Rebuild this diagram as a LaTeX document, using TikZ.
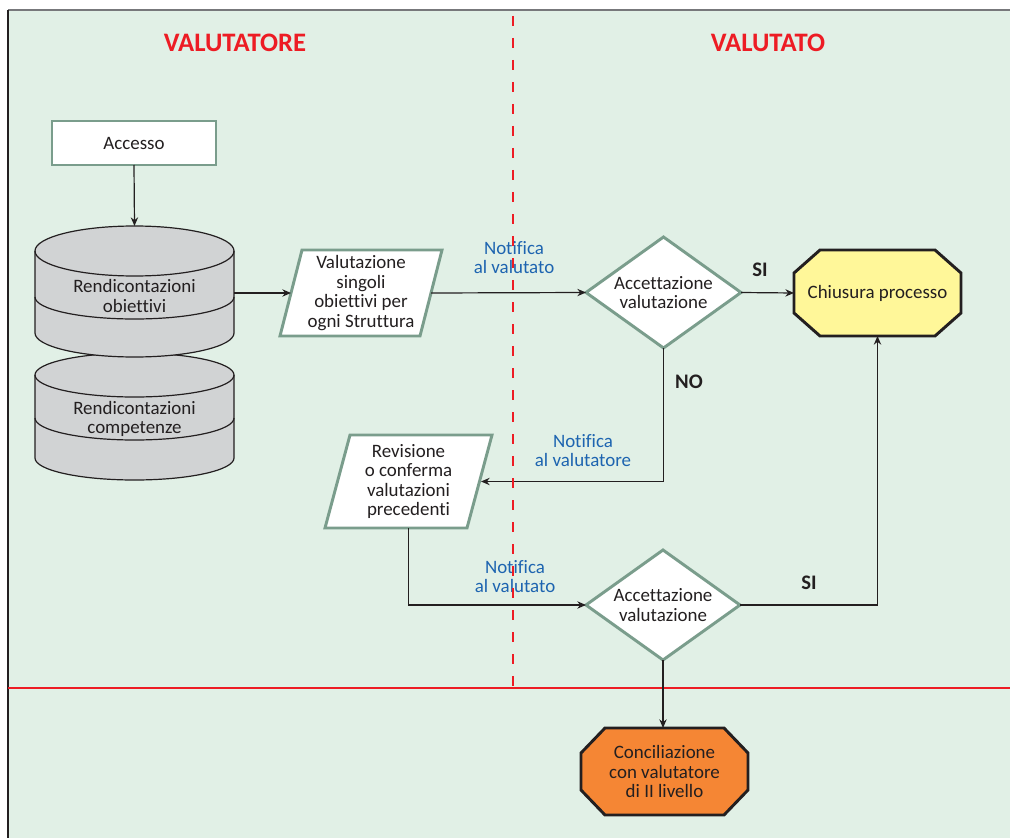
\documentclass[tikz,border=0pt]{standalone}
\usepackage{fontspec}
\setmainfont{Carlito}[Ligatures=NoCommon]
\usetikzlibrary{arrows.meta,calc}
\pgfdeclarelayer{back}
\pgfdeclarelayer{shp}
\pgfsetlayers{back,shp,main}
\definecolor{bgg}{HTML}{E1F0E6}
\definecolor{bord}{HTML}{7A9D8C}
\definecolor{ink}{HTML}{231F20}
\definecolor{cylfill}{HTML}{D1D3D4}
\definecolor{yell}{HTML}{FFF799}
\definecolor{oran}{HTML}{F58634}
\definecolor{redl}{HTML}{ED1C24}
\definecolor{bluel}{HTML}{1D64B0}
\definecolor{framegray}{HTML}{77787B}
\tikzset{
  txt/.style={font=\fontsize{14.2}{14.7}\selectfont, text=ink, align=center},
  hit/.style={inner sep=0pt, outer sep=0pt},
  title/.style={font=\fontsize{20}{24}\selectfont\bfseries, text=redl},
  note/.style={font=\fontsize{14.2}{14.3}\selectfont, text=bluel, align=center},
  yn/.style={font=\fontsize{15.5}{18}\selectfont\bfseries, text=ink},
  outl/.style={draw=bord, fill=white, line width=2.2pt, line join=miter},
  octo/.style={draw=ink, line width=2.2pt, line join=miter},
  cyl/.style={draw=ink, line width=0.9pt},
  arr/.style={draw=ink, line width=0.9pt, -{Stealth[length=6.5pt,width=5.5pt]}},
  lin/.style={draw=ink, line width=0.9pt},
}
\newcommand\octpath[4]{% node, cut x, cut y, style
  \begin{pgfonlayer}{shp}
  \path[#4] ($(#1.north west)+(#2,0)$) -- ($(#1.north east)+(-#2,0)$)
    -- ($(#1.north east)+(0,#3)$) -- ($(#1.south east)+(0,-#3)$)
    -- ($(#1.south east)+(-#2,0)$) -- ($(#1.south west)+(#2,0)$)
    -- ($(#1.south west)+(0,-#3)$) -- ($(#1.north west)+(0,#3)$) -- cycle;
  \end{pgfonlayer}}
\newcommand\diapath[1]{%
  \begin{pgfonlayer}{shp}
  \path[outl] (#1.west) -- (#1.north) -- (#1.east) -- (#1.south) -- cycle;
  \end{pgfonlayer}}
\newcommand\parpath[2]{%
  \begin{pgfonlayer}{shp}
  \path[outl] ($(#1.north west)+(#2,0)$) -- (#1.north east)
    -- ($(#1.south east)+(-#2,0)$) -- (#1.south west) -- cycle;
  \end{pgfonlayer}}
\begin{document}
\begin{tikzpicture}[x=0.75pt,y=-0.75pt]
\useasboundingbox (0,0) rectangle (1010,838);
\begin{pgfonlayer}{back}
  \fill[white] (0,0) rectangle (1010,838);
  \fill[bgg] (8,10) rectangle (1010,838);
  \draw[framegray, line width=1.5pt] (8,10) -- (1010,10);
  \draw[ink, line width=1.1pt] (8,10) -- (8,838);
  \draw[redl, line width=1.9pt] (8,688) -- (1010,688);
\end{pgfonlayer}

% titles
\node[title] (t1) at (235,43) {VALUTATORE};
\node[title] (t2) at (768,43) {VALUTATO};

% Accesso
\node[txt, hit, outl, minimum width=123pt, minimum height=33pt] (acc) at (134,143) {Accesso};

% cylinders
\begin{pgfonlayer}{shp}
  \path[cyl, fill=cylfill] (35,375) -- (35,458)
     arc[start angle=180, end angle=360, x radius=74.625pt, y radius=16.5pt]
     -- (234,375)
     arc[start angle=0, end angle=180, x radius=74.625pt, y radius=16.5pt] -- cycle;
  \path[cyl] (35,375) arc[start angle=180, end angle=360, x radius=74.625pt, y radius=16.5pt];
  \path[cyl] (35,418) arc[start angle=180, end angle=360, x radius=74.625pt, y radius=16.5pt];
  \path[cyl, fill=cylfill] (35,251) -- (35,333)
     arc[start angle=180, end angle=360, x radius=74.625pt, y radius=18pt]
     -- (234,251)
     arc[start angle=0, end angle=180, x radius=74.625pt, y radius=18.75pt] -- cycle;
  \path[cyl] (35,251) arc[start angle=180, end angle=360, x radius=74.625pt, y radius=18.75pt];
  \path[cyl] (35,297) arc[start angle=180, end angle=360, x radius=74.625pt, y radius=16.5pt];
\end{pgfonlayer}
\node[hit, minimum width=149.25pt, minimum height=98.25pt] (cyl1) at (134.5,291.5) {};
\node[txt] (cyl1t) at (134.5,296) {Rendicontazioni\\obiettivi};
\node[txt] (cyl2t) at (134.5,419) {Rendicontazioni\\competenze};

% parallelograms
\node[txt, hit, minimum width=121.5pt, minimum height=64.5pt] (p1) at (361,293)
  {Valutazione\\singoli\\obiettivi per\\ogni Struttura};
\parpath{p1}{22}
\node[txt, hit, minimum width=125.25pt, minimum height=69.75pt] (p2) at (408.5,481.5)
  {Revisione\\o conferma\\valutazioni\\precedenti};
\parpath{p2}{25}

% diamonds
\node[txt, hit, minimum width=116.25pt, minimum height=83.25pt] (d1) at (663.5,292.5)
  {Accettazione\\valutazione};
\diapath{d1}
\node[txt, hit, minimum width=115.5pt, minimum height=82.5pt] (d2) at (663,605)
  {Accettazione\\valutazione};
\diapath{d2}

% octagons
\node[txt, hit, minimum width=125.25pt, minimum height=64.5pt] (oct1) at (877.5,293)
  {Chiusura processo};
\octpath{oct1}{26}{23}{octo, fill=yell}
\node[txt, hit, minimum width=125.25pt, minimum height=65.25pt] (oct2) at (664.5,771.5)
  {Conciliazione\\con valutatore\\di II livello};
\octpath{oct2}{24}{25}{octo, fill=oran}

% labels
\node[note] (n1) at (514,258) {Notifica\\al valutato};
\node[note] (n2) at (583,451) {Notifica\\al valutatore};
\node[note] (n3) at (515,577) {Notifica\\al valutato};
\node[yn] (si1) at (760,270) {SI};
\node[yn] (no1) at (689,382) {NO};
\node[yn] (si2) at (809,583) {SI};

% connectors
\draw[arr] (acc.south) -- (cyl1.north);
\draw[arr] (cyl1.east |- p1.west) -- ($(p1.west)+(11,0)$);
\draw[arr] ($(p1.east)+(-11,0)$) -- (d1.west);
\draw[arr] (d1.east) -- (oct1.west);
\draw[arr] (d1.south) |- ($(p2.east)+(-11,0)$);
\draw[arr] (p2.south) |- (d2.west);
\draw[arr] (d2.east) -| (oct1.south);
\draw[arr] (d2.south) -- (d2.south |- oct2.north);

% dashed separator
\draw[redl, line width=1.6pt, dash pattern=on 7.5pt off 9pt] (513,16) -- (513,688);
\end{tikzpicture}
\end{document}
